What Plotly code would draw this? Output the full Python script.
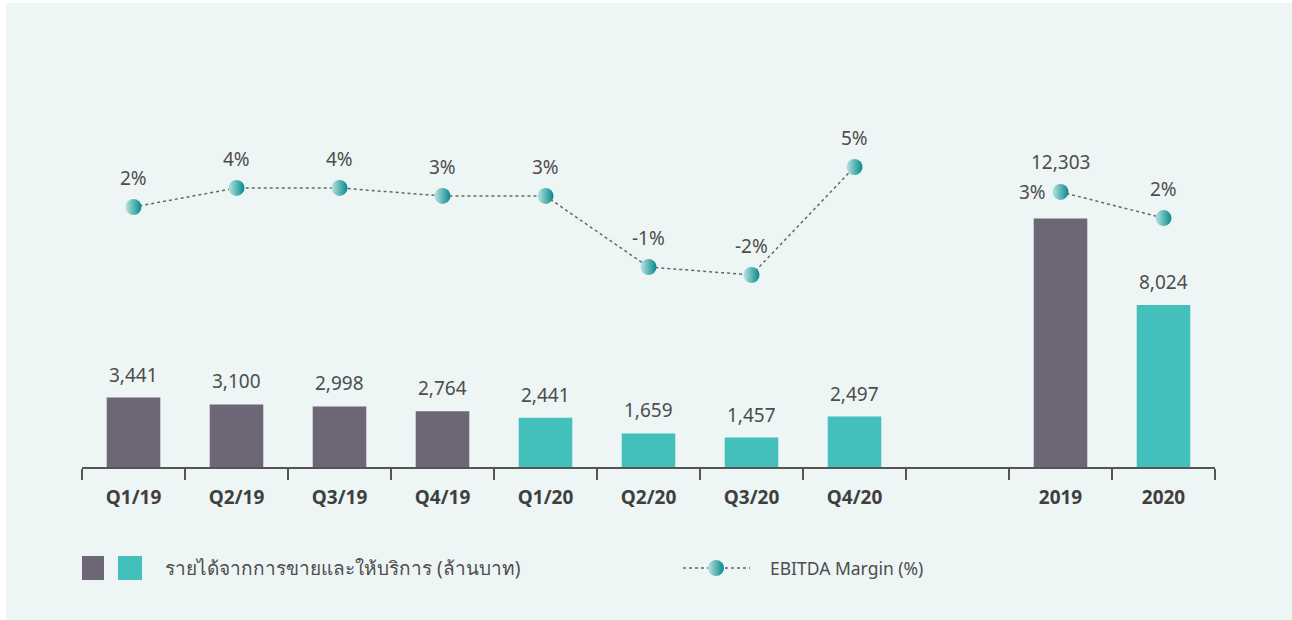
import plotly.graph_objects as go

categories = ["Q1/19", "Q2/19", "Q3/19", "Q4/19", "Q1/20", "Q2/20", "Q3/20", "Q4/20", " ", "2019", "2020"]
revenue = [3441, 3100, 2998, 2764, 2441, 1659, 1457, 2497, None, 12303, 8024]
revenue_labels = ["3,441", "3,100", "2,998", "2,764", "2,441", "1,659", "1,457", "2,497", "", "12,303", "8,024"]
bar_colors = ["#6D6677"] * 4 + ["#43C0BC"] * 4 + ["#43C0BC", "#6D6677", "#43C0BC"]
# EBITDA margin (%): plotted level, label as printed
margin_level = [2.75, 3.94, 3.94, 3.44, 3.44, -1.0, -1.5, 5.25, None, 3.69, 2.06]
margin_labels = ["2%", "4%", "4%", "3%", "3%", "-1%", "-2%", "5%", "", "3%", "2%"]
legend_revenue = "รายได้จากการขายและให้บริการ (ล้านบาท)"
legend_margin = "EBITDA Margin (%)"

PURPLE = "#6D6677"
TEAL = "#43C0BC"
TXT = "#4D4D4D"
FONT = "Noto Sans, Lato, sans-serif"
BG = "#EDF6F4"
MARKER = dict(size=16, color="#B8E5E2", gradient=dict(type="horizontal", color="#08898A"), line=dict(width=0))

fig = go.Figure()
fig.add_trace(go.Bar(
    x=categories, y=revenue, marker=dict(color=bar_colors, line=dict(width=0)),
    width=0.52, hoverinfo="skip", showlegend=False,
))
fig.add_trace(go.Scatter(
    x=categories, y=margin_level, yaxis="y2", mode="lines+markers",
    line=dict(color="#666666", width=1.5, dash="dot"),
    marker=MARKER, connectgaps=False, hoverinfo="skip", showlegend=False,
))
# legend key marker, drawn in the legend strip (x2/y3 use page-pixel units)
fig.add_trace(go.Scatter(
    x=[716], y=[568], xaxis="x2", yaxis="y3", mode="markers",
    marker=MARKER, hoverinfo="skip", showlegend=False,
))

annotations = []
for i, c in enumerate(categories):
    if revenue[i] is not None:
        shift = 8 if c != "2019" else 42
        annotations.append(dict(x=i, y=revenue[i], xref="x", yref="y", text=revenue_labels[i],
                                showarrow=False, yanchor="bottom", yshift=shift,
                                font=dict(size=19, color=TXT, family=FONT)))
    if margin_level[i] is not None:
        if c == "2019":
            annotations.append(dict(x=i, y=margin_level[i], xref="x", yref="y2", text=margin_labels[i],
                                    showarrow=False, xanchor="right", xshift=-13, yanchor="middle",
                                    font=dict(size=19, color=TXT, family=FONT)))
        else:
            annotations.append(dict(x=i, y=margin_level[i], xref="x", yref="y2", text=margin_labels[i],
                                    showarrow=False, yanchor="bottom", yshift=14,
                                    font=dict(size=19, color=TXT, family=FONT)))

# plot area spans page x 82..1215, page y 100..600
PW, PH = 1133.0, 500.0
shapes = [
    dict(type="rect", xref="paper", yref="paper", x0=(6 - 82) / PW, x1=(1300 - 82) / PW,
         y0=(600 - 630) / PH, y1=(600 - 3) / PH, fillcolor=BG, line=dict(width=0), layer="below"),
    dict(type="rect", xref="x2", yref="y3", x0=80, x1=104, y0=556, y1=580,
         fillcolor=PURPLE, line=dict(width=0)),
    dict(type="rect", xref="x2", yref="y3", x0=118, x1=142, y0=556, y1=580,
         fillcolor=TEAL, line=dict(width=0)),
    dict(type="line", xref="x2", yref="y3", x0=683, x1=750, y0=568, y1=568,
         line=dict(color="#666666", width=1.5, dash="dot"), layer="below"),
]
annotations.append(dict(xref="x2", yref="y3", x=163, y=568, xanchor="left", yanchor="middle",
                        text=legend_revenue, showarrow=False,
                        font=dict(size=19, color=TXT, family=FONT)))
annotations.append(dict(xref="x2", yref="y3", x=768, y=568, xanchor="left", yanchor="middle",
                        text=legend_margin, showarrow=False,
                        font=dict(size=17.5, color=TXT, family=FONT)))

ydom0 = (600 - 467) / PH
fig.update_layout(
    width=1292, height=620,
    margin=dict(l=82, r=77, t=100, b=20),
    paper_bgcolor="white", plot_bgcolor="rgba(0,0,0,0)",
    showlegend=False, hovermode=False,
    xaxis=dict(type="category", categoryorder="array", categoryarray=categories,
               tickmode="array", tickvals=categories,
               ticktext=["<b>%s</b>" % c if c.strip() else "" for c in categories],
               tickson="boundaries", ticks="outside", ticklen=11, tickwidth=1.5, tickcolor="#555555",
               showline=True, linecolor="#555555", linewidth=2, showgrid=False, zeroline=False,
               ticklabelstandoff=12, anchor="y",
               tickfont=dict(size=19, color="#3F3F3F", family=FONT), range=[-0.5, 10.5]),
    yaxis=dict(visible=False, range=[0, 18170], domain=[ydom0, 1], fixedrange=True),
    yaxis2=dict(visible=False, overlaying="y", range=[-13.5, 9.4375]),
    xaxis2=dict(visible=False, anchor="y3", range=[82, 1215], domain=[0, 1]),
    yaxis3=dict(visible=False, anchor="x2", range=[600, 467], domain=[0, ydom0]),
    shapes=shapes, annotations=annotations,
    font=dict(family=FONT, color=TXT),
)

fig.write_html("out.html", config={"displayModeBar": False, "staticPlot": True},
               post_script="document.body.style.margin='0';")
